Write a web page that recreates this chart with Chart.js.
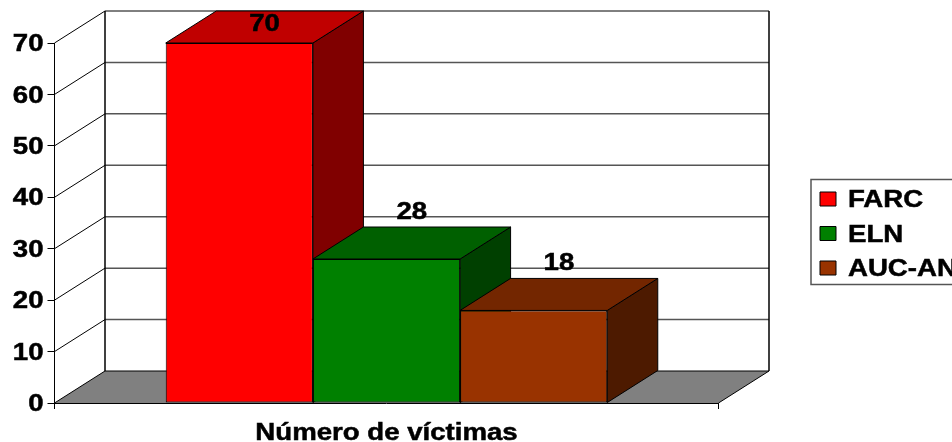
<!DOCTYPE html>
<html>
<head>
<meta charset="utf-8">
<style>
    body { margin: 0; background: #fff; }
    canvas { display: block; }
</style>
<script src="https://cdn.jsdelivr.net/npm/chart.js@4"></script>
</head>
<body>
<canvas id="grafico" width="952" height="442"></canvas>
<script>
const categorias = ['Número de víctimas'];
const grupos = ['FARC', 'ELN', 'AUC-AN'];
const valores = [70, 28, 18];
const yTicks = [0, 10, 20, 30, 40, 50, 60, 70];
const coresFrente = ['#ff0000', '#008000', '#993300'];
const coresTopo = ['#c00000', '#006000', '#732600'];
const coresLado = ['#800000', '#004000', '#4d1a00'];

// profundidade do efeito 3D
const DX = 50.5;
const DY = -32;
const FONTE = { family: '"Liberation Sans", Arial, sans-serif', size: 24, weight: 'bold', lineHeight: 1 };

const canvas = document.getElementById('grafico');
const ctx = canvas.getContext('2d');

// O texto do original está esticado na horizontal e um pouco mais pesado
const fillTextOriginal = ctx.fillText.bind(ctx);
const strokeTextOriginal = ctx.strokeText.bind(ctx);
ctx.fillText = function(texto, x, y) {
    ctx.save();
    ctx.translate(x, ctx.textBaseline === 'middle' ? y + 1.5 : y);
    ctx.scale(1.15, 1);
    fillTextOriginal(texto, 0, 0);
    ctx.strokeStyle = ctx.fillStyle;
    ctx.lineWidth = 0.5;
    strokeTextOriginal(texto, 0, 0);
    ctx.restore();
};

function poligono(c, pontos, preenchimento, linha) {
    c.beginPath();
    pontos.forEach((p, i) => i ? c.lineTo(p[0], p[1]) : c.moveTo(p[0], p[1]));
    c.closePath();
    if (preenchimento) {
        c.fillStyle = preenchimento;
        c.fill();
    }
    if (linha) {
        c.strokeStyle = linha;
        c.lineWidth = 1;
        c.stroke();
    }
}

function linha(c, x1, y1, x2, y2, cor, largura) {
    c.beginPath();
    c.moveTo(x1, y1);
    c.lineTo(x2, y2);
    c.strokeStyle = cor;
    c.lineWidth = largura;
    c.stroke();
}

// Paredes, chão e linhas de grade
const paredes = {
    id: 'paredes',
    beforeDatasetsDraw(chart) {
        const c = chart.ctx;
        const { left, right } = chart.chartArea;
        const y = chart.scales.y;
        const y0 = y.getPixelForValue(0);
        const yMax = y.getPixelForValue(yTicks[yTicks.length - 1]);

        poligono(c, [[left, y0], [left + DX, y0 + DY], [right + DX, y0 + DY], [right, y0]], '#808080', null);

        yTicks.forEach(v => {
            const py = y.getPixelForValue(v);
            const fim = v === yTicks[yTicks.length - 1] || v === 0;
            linha(c, left, py, left + DX, py + DY, '#000', 1);
            linha(c, left + DX, py + DY, right + DX, py + DY, fim ? '#000' : '#555', fim ? 1 : 1.5);
        });
        linha(c, left + DX, yMax + DY, left + DX, y0 + DY, '#000', 1.5);
        linha(c, right + DX, yMax + DY, right + DX, y0 + DY, '#000', 1.5);
        linha(c, right, y0, right + DX, y0 + DY, '#000', 1);

        // lado e topo de cada barra, da esquerda para a direita
        grupos.forEach((g, i) => {
            const b = chart.getDatasetMeta(i).data[0];
            const esq = b.x - b.width / 2;
            const dir = b.x + b.width / 2;
            poligono(c, [[dir, b.y], [dir + DX, b.y + DY], [dir + DX, b.base + DY], [dir, b.base]], coresLado[i], '#000');
            poligono(c, [[esq, b.y], [esq + DX, b.y + DY], [dir + DX, b.y + DY], [dir, b.y]], coresTopo[i], '#000');
        });
    }
};

// Rótulos de valor sobre as barras e moldura da legenda
const rotulos = {
    id: 'rotulos',
    beforeDraw(chart) {
        const c = chart.ctx;
        c.strokeStyle = '#555';
        c.lineWidth = 1.5;
        c.strokeRect(811, 179.5, 160, 105);
    },
    afterDatasetsDraw(chart) {
        const c = chart.ctx;
        c.save();
        c.font = `bold ${FONTE.size}px ${FONTE.family}`;
        c.fillStyle = '#000';
        c.textAlign = 'center';
        c.textBaseline = 'alphabetic';
        grupos.forEach((g, i) => {
            const b = chart.getDatasetMeta(i).data[0];
            c.fillText(String(valores[i]), b.x + DX / 2, Math.max(b.y - 40.5, 30.5));
        });
        c.restore();
    },
    afterLayout(chart) {
        const l = chart.legend;
        l.left = 809.5;
        l.right = 960;
        l.top = 176.5;
        l.bottom = 340;
    }
};

new Chart(ctx, {
    type: 'bar',
    data: {
        labels: categorias,
        datasets: grupos.map((g, i) => ({
            label: g,
            data: [valores[i]],
            backgroundColor: coresFrente[i],
            borderColor: '#000',
            borderWidth: 1,
            borderSkipped: false
        }))
    },
    plugins: [paredes, rotulos],
    options: {
        responsive: false,
        animation: false,
        layout: { padding: { top: 43, right: 233.5, bottom: 0, left: 0 } },
        datasets: { bar: { categoryPercentage: 0.665, barPercentage: 1 } },
        plugins: {
            tooltip: { enabled: false },
            legend: {
                position: 'chartArea',
                align: 'start',
                labels: {
                    boxWidth: 16,
                    boxHeight: 14,
                    padding: 10.5,
                    color: '#000',
                    font: FONTE
                }
            }
        },
        scales: {
            x: {
                afterFit: s => { s.height = 39; },
                border: { color: '#000', width: 1 },
                grid: { offset: true, drawOnChartArea: false, color: '#000', tickLength: 6 },
                ticks: { color: '#000', font: FONTE, padding: 11, maxRotation: 0 }
            },
            y: {
                min: 0,
                max: 70,
                afterFit: s => { s.width = 54.5; },
                border: { color: '#000', width: 1 },
                grid: { drawOnChartArea: false, color: '#000', tickLength: 7 },
                ticks: { color: '#000', font: FONTE, padding: 4, stepSize: 10, autoSkip: false }
            }
        }
    }
});
</script>
</body>
</html>
